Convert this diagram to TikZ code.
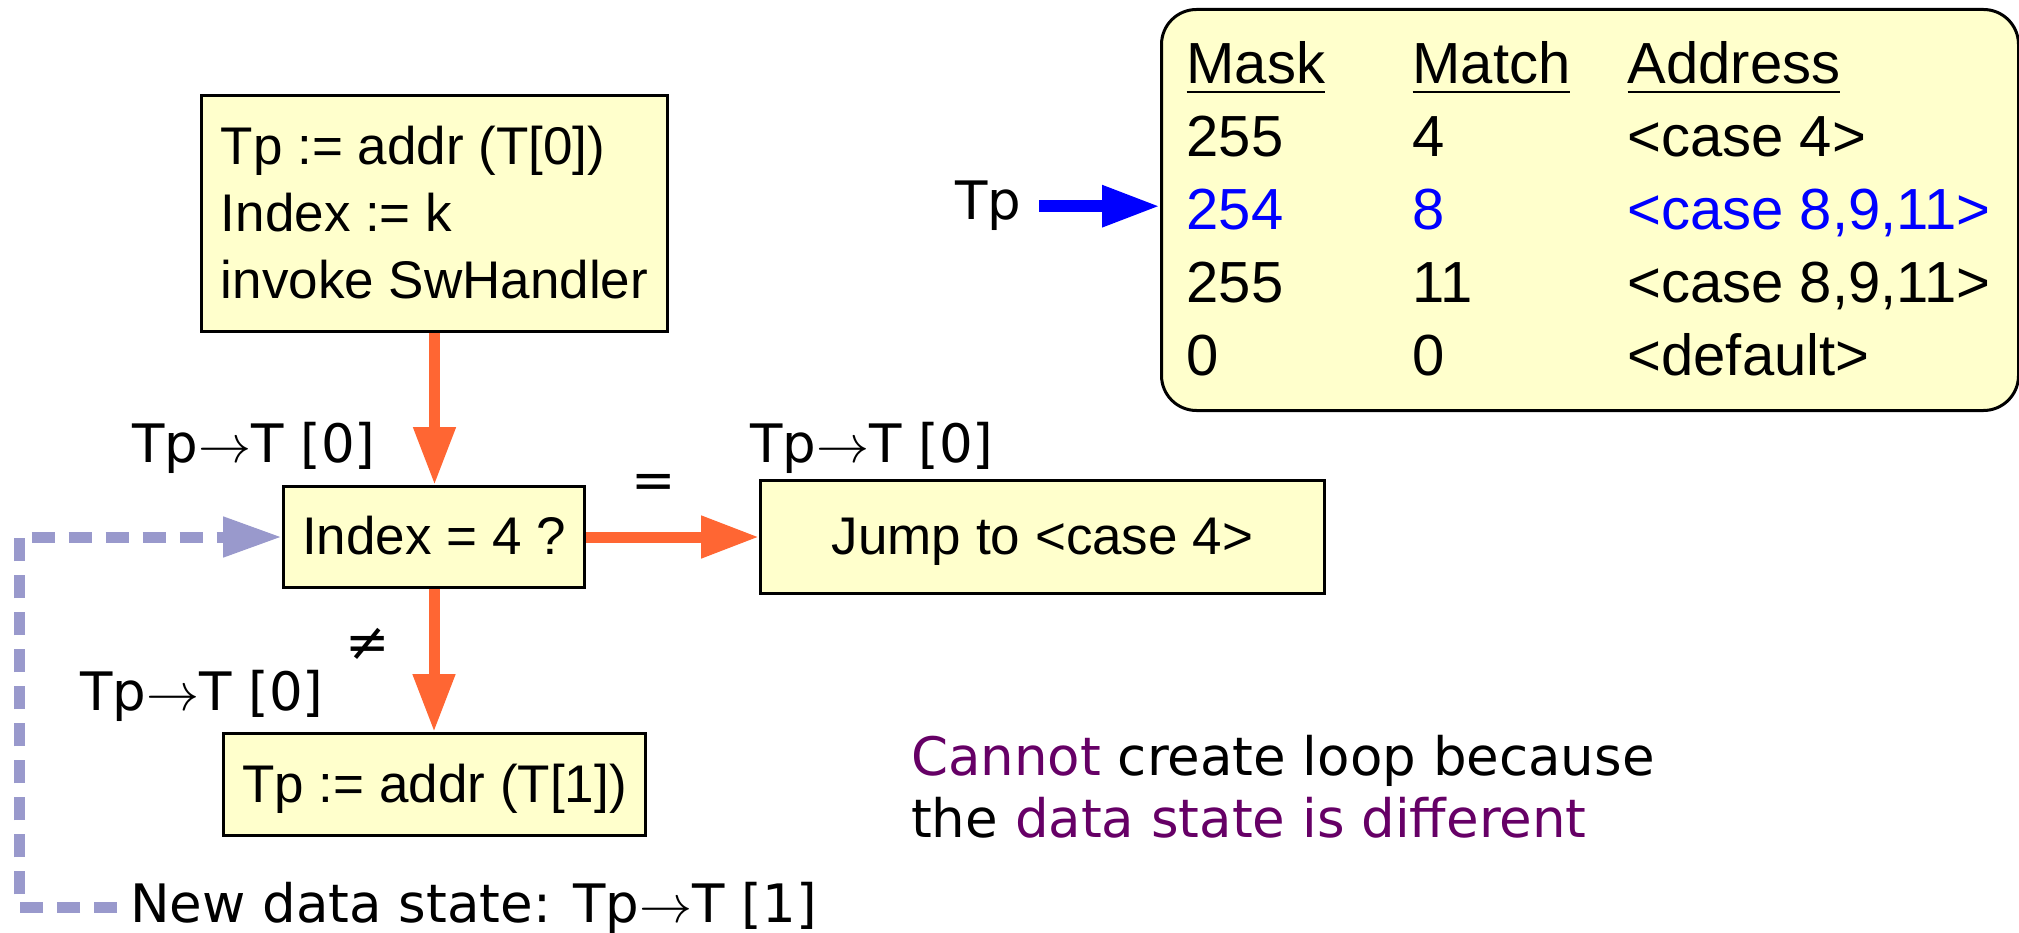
\documentclass[tikz,border=0pt]{standalone}
\usepackage{fontspec}
\setmainfont{Liberation Sans}
\newfontfamily\dvsans{DejaVu Sans}
\usetikzlibrary{arrows.meta}
% scalable math symbol fonts for the large arrows and underlines
\DeclareFontShape{OMS}{cmsy}{m}{n}{<->cmsy10}{}
\DeclareFontShape{OMX}{cmex}{m}{n}{<->cmex10}{}

\definecolor{boxyellow}{HTML}{FFFFCC}
\definecolor{flowor}{HTML}{FF6633}
\definecolor{backlav}{HTML}{9999CC}
\definecolor{notepurple}{HTML}{660066}

\newcommand\boxfont{\fontsize{53}{67}\selectfont}
\newcommand\tblfont{\fontsize{58}{73}\selectfont}
\newcommand\lblfont{\dvsans\fontsize{53}{62}\selectfont}

\tikzset{
  box/.style={draw=black, line width=3pt, fill=boxyellow, inner xsep=0pt,
    inner ysep=0pt, minimum height=0pt, font=\boxfont, anchor=north west},
  tablebox/.style={draw=black, line width=3pt, fill=boxyellow,
    rounded corners=35pt, inner xsep=25pt, inner ysep=0pt, font=\tblfont,
    anchor=north west},
  flow/.style={draw=flowor, line width=11pt,
    -{Triangle[length=58pt,width=40pt]}},
  back/.style={draw=backlav, line width=11pt, dash pattern=on 23pt off 14pt,
    -{Triangle[length=59pt,width=38pt]}},
  ptr/.style={draw=blue, line width=12pt,
    -{Triangle[length=58pt,width=39pt]}},
  lbl/.style={font=\lblfont, inner sep=0pt, anchor=base west},
  sym/.style={font=\lblfont, inner sep=0pt},
}

\begin{document}
\begin{tikzpicture}[x=1pt,y=-1pt]
\useasboundingbox (0,0) rectangle (2019,933);

% flow boxes
\node[box, minimum width=466pt, text height=69pt, text depth=167pt] (init) at (200,94)
  {\begin{tabular}[t]{@{}l@{}}Tp := addr (T[0])\\ Index := k\\ invoke SwHandler\end{tabular}};
\node[box, minimum width=301pt, text height=68pt, text depth=33pt] (idx) at (282,485)
  {Index = 4 ?};
\node[box, minimum width=564pt, text height=74pt, text depth=39pt] (jump) at (759,479)
  {Jump to <case 4>};
\node[box, minimum width=422pt, text height=69pt, text depth=33pt] (next) at (222,732)
  {Tp := addr (T[1])};

% jump table
\node[tablebox, text height=74pt, text depth=327pt] (tbl) at (1160,8)
  {\begin{tabular}[t]{@{}p{226pt}@{}p{215pt}@{}p{366pt}@{}}
    \underline{Mask} & \underline{Match} & \underline{Address}\\
    255 & 4 & <case 4>\\
    \textcolor{blue}{254} & \textcolor{blue}{8} & \textcolor{blue}{<case 8,9,11>}\\
    255 & 11 & <case 8,9,11>\\
    0 & 0 & <default>
  \end{tabular}};

% table pointer
\node[lbl] (tp) at (955,220) {Tp};
\draw[ptr, shorten <=18pt] (tp.east) -- (tp.east -| tbl.west);

% data-state labels
\node[lbl] (st1) at (132,462) {Tp$\rightarrow$T [0]};
\node[lbl] (st2) at (750,462) {Tp$\rightarrow$T [0]};
\node[lbl] (st3) at (80,710) {Tp$\rightarrow$T [0]};
\node[lbl] (newst) at (130,922) {New data state: Tp$\rightarrow$T [1]};

% control flow
\draw[flow] (init.south) -- (init.south |- idx.north);
\draw[flow] (idx.east) -- node[sym, pos=0.39, yshift=51pt] (eq) {=} (jump.west);
\draw[flow] (idx.south) -- node[sym, pos=0.39, xshift=-66pt] (ne) {≠} (idx.south |- next.north);

% attempted loop back
\coordinate (loopx) at (19,0);
\draw[back, shorten <=13pt] (newst.west) -- (newst.west -| loopx) |- (idx.west);

% remark
\node[lbl] (note) at (911,775)
  {\begin{tabular}[t]{@{}l@{}}\textcolor{notepurple}{Cannot} create loop because\\
   the \textcolor{notepurple}{data state is different}\end{tabular}};
\end{tikzpicture}
\end{document}
